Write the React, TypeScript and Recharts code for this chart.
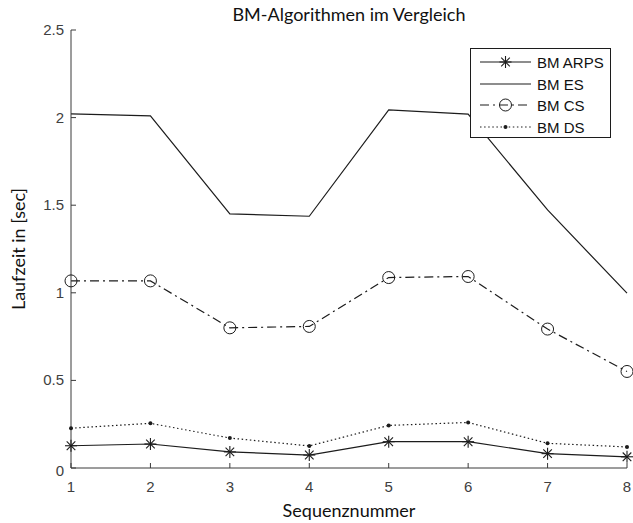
import React from "react";
import { LineChart, Line, XAxis, YAxis, Legend } from "recharts";

// Sequence numbers on the x axis
const sequenz = [1, 2, 3, 4, 5, 6, 7, 8];
// Run time in seconds per block-matching algorithm
const bmArps = [0.127, 0.137, 0.092, 0.074, 0.15, 0.15, 0.082, 0.064];
const bmEs = [2.021, 2.01, 1.45, 1.437, 2.044, 2.02, 1.473, 0.998];
const bmCs = [1.068, 1.068, 0.8, 0.808, 1.087, 1.093, 0.793, 0.551];
const bmDs = [0.227, 0.255, 0.171, 0.126, 0.243, 0.26, 0.141, 0.12];

const yTicks = [0, 0.5, 1, 1.5, 2, 2.5];
const xTicks = sequenz;

const seriesNames = ["BM ARPS", "BM ES", "BM CS", "BM DS"];

const data = sequenz.map((s, i) => ({
  seq: s,
  arps: bmArps[i],
  es: bmEs[i],
  cs: bmCs[i],
  ds: bmDs[i],
}));

const INK = "#1c1c1c";
const AXIS = "#3a3a3a";
const TICK_TEXT = "#404040";
const TICK_FONT = "'Liberation Sans', Arial, sans-serif";
const LABEL_FONT = "Lato, 'Open Sans', sans-serif";
const TICK_LEN = 5;

const W = 633;
const H = 523;
const M = { top: 30, right: 6, left: 0, bottom: 0 };
const Y_AXIS_W = 71;
const X_AXIS_H = 55;

type Style = "arps" | "es" | "cs" | "ds";

function Marker({ kind, cx, cy }: { kind: Style; cx: number; cy: number }) {
  if (kind === "arps") {
    const r = 6;
    const d = 4.3;
    return (
      <g stroke={INK} strokeWidth={1.1}>
        <line x1={cx - r} y1={cy} x2={cx + r} y2={cy} />
        <line x1={cx} y1={cy - r} x2={cx} y2={cy + r} />
        <line x1={cx - d} y1={cy - d} x2={cx + d} y2={cy + d} />
        <line x1={cx - d} y1={cy + d} x2={cx + d} y2={cy - d} />
      </g>
    );
  }
  if (kind === "cs") {
    return <circle cx={cx} cy={cy} r={6} fill="none" stroke={INK} strokeWidth={1} />;
  }
  if (kind === "ds") {
    return <circle cx={cx} cy={cy} r={2} fill={INK} stroke="none" />;
  }
  return null;
}

const makeDot = (kind: Style) => (props: any) => {
  const { cx, cy, index } = props;
  if (cx == null || cy == null) return <g key={`${kind}-${index}`} />;
  return (
    <g key={`${kind}-${index}`}>
      <Marker kind={kind} cx={cx} cy={cy} />
    </g>
  );
};

const dashFor: Record<Style, string | undefined> = {
  arps: undefined,
  es: undefined,
  cs: "9 4 2 4",
  ds: "1.5 2.6",
};

const BottomTick = (props: any) => {
  const { x, y, payload } = props;
  return (
    <g>
      <line x1={x} y1={y} x2={x} y2={y - TICK_LEN} stroke={AXIS} strokeWidth={1} />
      <text
        x={x}
        y={y + 24}
        textAnchor="middle"
        fontFamily={TICK_FONT}
        fontSize={15}
        fill={TICK_TEXT}
      >
        {payload.value}
      </text>
    </g>
  );
};

const TopTick = (props: any) => {
  const { x, y } = props;
  return <line x1={x} y1={y} x2={x} y2={y + TICK_LEN} stroke={AXIS} strokeWidth={1} />;
};

const LeftTick = (props: any) => {
  const { x, y, payload } = props;
  return (
    <g>
      <line x1={x} y1={y} x2={x + TICK_LEN} y2={y} stroke={AXIS} strokeWidth={1} />
      <text
        x={x - 7}
        y={y + (payload.value === 0 ? 8 : 5)}
        textAnchor="end"
        fontFamily={TICK_FONT}
        fontSize={15}
        fill={TICK_TEXT}
      >
        {payload.value}
      </text>
    </g>
  );
};

const RightTick = (props: any) => {
  const { x, y } = props;
  return <line x1={x} y1={y} x2={x - TICK_LEN} y2={y} stroke={AXIS} strokeWidth={1} />;
};

const kinds: Style[] = ["arps", "es", "cs", "ds"];

function LegendBox() {
  const rowY = [14, 36, 57, 79];
  return (
    <svg width={141} height={90} style={{ display: "block", background: "#fff" }}>
      <rect x={0.5} y={0.5} width={140} height={89} fill="#fff" stroke={INK} strokeWidth={1} />
      {seriesNames.map((name, i) => {
        const kind = kinds[i];
        const y = rowY[i];
        return (
          <g key={name}>
            <line
              x1={10}
              y1={y}
              x2={61}
              y2={y}
              stroke={INK}
              strokeWidth={1.2}
              strokeDasharray={dashFor[kind]}
            />
            <Marker kind={kind} cx={35.5} cy={y} />
            <text
              x={67}
              y={y + 5.5}
              fontFamily={TICK_FONT}
              fontSize={15}
              fill="#111"
            >
              {name}
            </text>
          </g>
        );
      })}
    </svg>
  );
}

export default function App() {
  return (
    <div
      style={{
        position: "absolute",
        left: 0,
        top: 0,
        width: W,
        height: H,
        background: "#fff",
      }}
    >
      <LineChart width={W} height={H} data={data} margin={M}>
        <XAxis
          dataKey="seq"
          type="number"
          domain={[1, 8]}
          ticks={xTicks}
          height={X_AXIS_H}
          tickSize={0}
          tickMargin={0}
          tickLine={false}
          axisLine={{ stroke: AXIS, strokeWidth: 1 }}
          tick={<BottomTick />}
          interval={0}
        />
        <XAxis
          xAxisId="top"
          orientation="top"
          dataKey="seq"
          type="number"
          domain={[1, 8]}
          ticks={xTicks}
          height={0}
          tickSize={0}
          tickMargin={0}
          tickLine={false}
          axisLine={{ stroke: AXIS, strokeWidth: 1 }}
          tick={<TopTick />}
          interval={0}
        />
        <YAxis
          type="number"
          domain={[0, 2.5]}
          ticks={yTicks}
          width={Y_AXIS_W}
          tickSize={0}
          tickMargin={0}
          tickLine={false}
          axisLine={{ stroke: AXIS, strokeWidth: 1 }}
          tick={<LeftTick />}
          interval={0}
        />
        <YAxis
          yAxisId="right"
          orientation="right"
          type="number"
          domain={[0, 2.5]}
          ticks={yTicks}
          width={0}
          tickSize={0}
          tickMargin={0}
          tickLine={false}
          axisLine={{ stroke: AXIS, strokeWidth: 1 }}
          tick={<RightTick />}
          interval={0}
        />
        {kinds.map((k, i) => (
          <Line
            key={k}
            type="linear"
            dataKey={k}
            name={seriesNames[i]}
            stroke={INK}
            strokeWidth={1.2}
            strokeDasharray={dashFor[k]}
            dot={k === "es" ? false : makeDot(k)}
            activeDot={false}
            isAnimationActive={false}
          />
        ))}
        <Legend
          layout="vertical"
          align="center"
          verticalAlign="middle"
          content={() => <LegendBox />}
          wrapperStyle={{ left: 470, top: 48, width: 141, height: 90 }}
        />
      </LineChart>
      <div
        style={{
          position: "absolute",
          left: 71,
          width: 556,
          top: 3,
          textAlign: "center",
          fontFamily: LABEL_FONT,
          fontSize: 18,
          color: "#111",
          lineHeight: "22px",
          whiteSpace: "nowrap",
        }}
      >
        BM-Algorithmen im Vergleich
      </div>
      <div
        style={{
          position: "absolute",
          left: 71,
          width: 556,
          top: 500,
          textAlign: "center",
          fontFamily: LABEL_FONT,
          fontSize: 18,
          color: "#111",
          lineHeight: "20px",
          whiteSpace: "nowrap",
        }}
      >
        Sequenznummer
      </div>
      <div
        style={{
          position: "absolute",
          left: 18,
          top: 249,
          transform: "translate(-50%, -50%) rotate(-90deg)",
          fontFamily: LABEL_FONT,
          fontSize: 18,
          color: "#111",
          lineHeight: "22px",
          whiteSpace: "nowrap",
        }}
      >
        Laufzeit in [sec]
      </div>
    </div>
  );
}
